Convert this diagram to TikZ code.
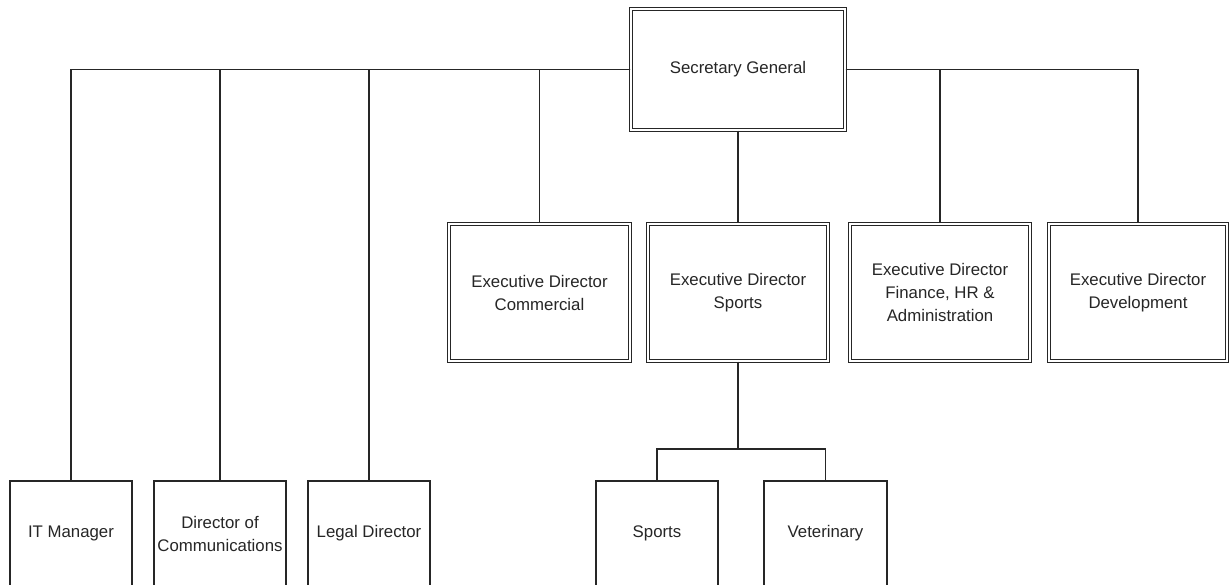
\documentclass[tikz,border=0pt]{standalone}
\usepackage{fontspec}
\setmainfont{Liberation Sans}
\begin{document}
\begin{tikzpicture}[x=1pt,y=-1pt,
  every node/.style={font=\fontsize{16.8}{23}\selectfont, align=center, inner sep=0pt, text=black!85},
  dbox/.style={draw=black!85, line width=1.1pt, double, double distance=2.2pt, minimum width=180pt, minimum height=137pt},
  sbox/.style={draw=black!85, line width=1.3pt, minimum height=105pt},
  conn/.style={draw=black!85, line width=1.3pt}]
\clip (0,0) rectangle (1230,585);
\fill[white] (0,0) rectangle (1230,585);
% top
\node[dbox, minimum width=214pt, minimum height=121pt] (sg) at (738,69.5) {\raisebox{-2pt}{Secretary General}};
% executive directors
\node[dbox, minimum width=181pt] (com) at (539.5,292.5) {Executive Director\\Commercial};
\node[dbox] (eds) at (738,292.5) {Executive Director\\Sports};
\node[dbox] (fin) at (940,292.5) {Executive Director\\Finance, HR \&\\Administration};
\node[dbox, minimum width=178pt] (dev) at (1138,292.5) {Executive Director\\Development};
% bottom row
\node[sbox, minimum width=122pt] (it) at (71,533.5) {IT Manager};
\node[sbox, minimum width=132pt] (dcm) at (220,533.5) {Director of\\Communications};
\node[sbox, minimum width=122pt] (leg) at (369,533.5) {Legal Director};
\node[sbox, minimum width=122pt] (sp) at (657,533.5) {Sports};
\node[sbox, minimum width=123pt] (vet) at (825.5,533.5) {Veterinary};
\coordinate (br) at (738,449);
% connectors
\draw[conn] (sg.west) -| (it.north);
\draw[conn] (sg.west) -| (dcm.north);
\draw[conn] (sg.west) -| (leg.north);
\draw[conn] (sg.west) -| (com.north);
\draw[conn] (sg.south) -- (eds.north);
\draw[conn] (sg.east) -| (fin.north);
\draw[conn] (sg.east) -| (dev.north);
\draw[conn] (eds.south) -- (br) -| (sp.north);
\draw[conn] (br) -| (vet.north);
\end{tikzpicture}
\end{document}
